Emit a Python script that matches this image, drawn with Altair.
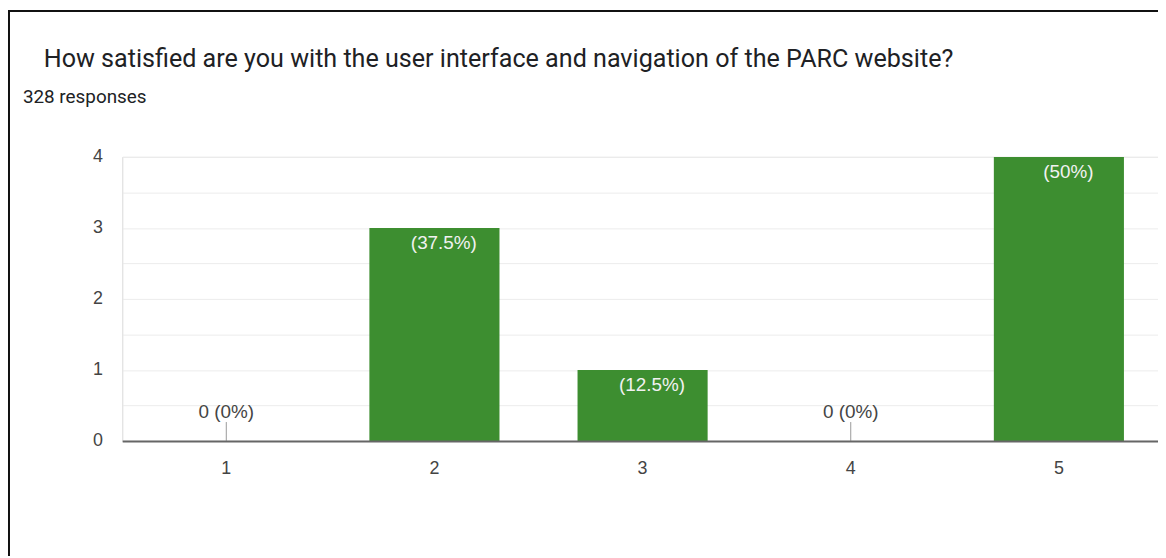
import altair as alt
import pandas as pd

categories = ["1", "2", "3", "4", "5"]
counts = [0, 3, 1, 0, 4]
title_text = "How satisfied are you with the user interface and navigation of the PARC website?"
subtitle_text = "328 responses"
y_ticks = [0, 0.5, 1, 1.5, 2, 2.5, 3, 3.5, 4]

total = sum(counts)
labels = []
for c in counts:
    p = c / total * 100
    labels.append(f"{c} ({p:g}%)" if c == 0 else f"({p:g}%)")

df = pd.DataFrame({"cat": categories, "count": counts, "label": labels})

W, H = 1043, 286
PL, PT = 115, 148
BAR = "#3d8e30"

x = alt.X("cat:N", sort=categories,
          scale=alt.Scale(paddingInner=0.375, paddingOuter=0.1875, rangeMax=1048),
          axis=alt.Axis(title=None, labelAngle=0, ticks=False, domain=True,
                        domainColor="#666666", domainWidth=2, labelFontSize=18,
                        labelFont="Liberation Sans", labelColor="#444444",
                        labelPadding=19, zindex=1, grid=False))
y = alt.Y("count:Q", scale=alt.Scale(domain=[0, 4], nice=False),
          axis=alt.Axis(title=None, values=y_ticks,
                        labelExpr="datum.value % 1 == 0 ? format(datum.value, 'd') : ''",
                        ticks=False, grid=True, gridColor="#ececec", gridWidth=1,
                        domainColor="#e4e4e4", domainWidth=1,
                        labelFontSize=18, labelFont="Liberation Sans",
                        labelColor="#444444", labelPadding=20))

base = alt.Chart(df)
bars = base.mark_bar(color=BAR).encode(x=x, y=y)
in_labels = base.transform_filter("datum.count > 0").mark_text(
    color="#f2f2f2", fontSize=19, font="Liberation Sans", baseline="alphabetic",
    dy=21, dx=9.5).encode(x=x, y=y, text="label:N")
zero_labels = base.transform_filter("datum.count == 0").mark_text(
    color="#444444", fontSize=19, font="Liberation Sans", baseline="alphabetic",
    dy=-23).encode(x=x, y=y, text="label:N")
zero_ticks = base.transform_filter("datum.count == 0").mark_rule(
    color="#999999", strokeWidth=1, y2Offset=-19).encode(x=x, y=y, y2="count:Q")

one = alt.Data(values=[{"a": 1}])
title = alt.Chart(one).mark_text(
    text=title_text, font="Roboto", fontSize=25.3, color="#202124",
    align="left", baseline="alphabetic").encode(x=alt.value(44 - 8 - PL), y=alt.value(66 - 8 - PT))
subtitle = alt.Chart(one).mark_text(
    text=subtitle_text, font="Roboto", fontSize=19, color="#202124",
    align="left", baseline="alphabetic").encode(x=alt.value(23 - 8 - PL), y=alt.value(102 - 8 - PT))
left_border = alt.Chart(one).mark_rule(color="#111111", strokeWidth=2).encode(
    x=alt.value(-PL + 1), x2=alt.value(-PL + 1), y=alt.value(-PT), y2=alt.value(550 - PT))
top_border = alt.Chart(one).mark_rule(color="#111111", strokeWidth=2).encode(
    x=alt.value(-PL), x2=alt.value(W), y=alt.value(-PT + 1), y2=alt.value(-PT + 1))

chart = alt.layer(bars, zero_ticks, in_labels, zero_labels, title, subtitle,
                  left_border, top_border).properties(
    width=W, height=H,
    padding={"left": PL, "top": PT, "right": 0, "bottom": 550 - PT - H},
    autosize=alt.AutoSizeParams(type="none"),
).configure_view(stroke=None).configure(background="white")

chart.save("out.html", embed_options={"renderer": "svg", "actions": False})
